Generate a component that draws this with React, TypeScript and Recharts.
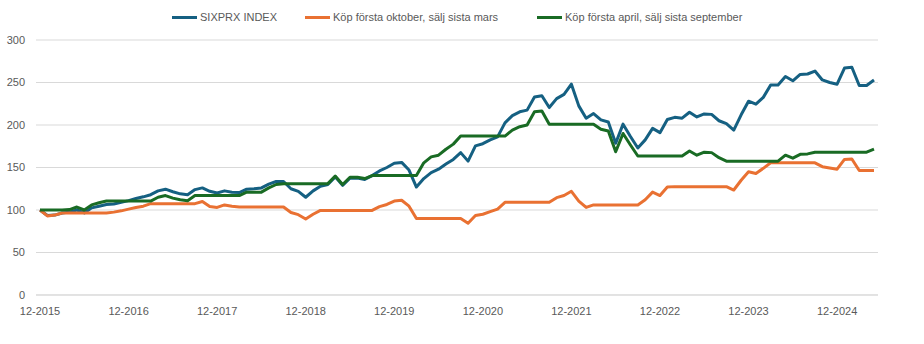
import { LineChart, Line, XAxis, YAxis, CartesianGrid } from 'recharts';

// monthly values, first point = 12-2015, one row per calendar year
const SIXPRX = [
  100,
  93.5, 94, 96.5, 97.5, 100, 96.5, 102.5, 104.5, 106.5, 107, 109, 111,
  113.5, 115.5, 118, 122.5, 124.5, 121.5, 119, 118, 124, 126, 122, 120,
  122.5, 121, 120.5, 124.5, 125, 126, 130.5, 133.5, 133.5, 125, 122, 115,
  122.5, 128, 130, 139, 129, 137.5, 137.5, 136, 140.5, 146, 150, 155,
  156, 147, 127, 137, 144, 148, 154, 159.5, 167.5, 157.5, 175.5, 178,
  182.5, 186, 202.5, 211, 215.5, 217.5, 233, 234.5, 220.5, 231, 236, 248,
  222.5, 208, 213.5, 206, 203.5, 178.5, 201, 186.5, 173, 182.5, 196, 191,
  206.5, 209, 208, 215, 209.5, 213, 212.5, 205, 201.5, 194, 212, 228,
  224.5, 232.5, 247, 247, 257, 252, 259.5, 260, 263.5, 253, 250, 248,
  267, 268, 246.5, 246.5, 253,
];

const OCT_MAR = [
  100,
  93, 94, 96.5, 96.5, 96.5, 96.5, 96.5, 96.5, 96.5, 97.5, 99, 101,
  103, 104.5, 107.5, 107.5, 107.5, 107.5, 107.5, 107.5, 107.5, 110, 104, 103,
  106, 104.5, 103.5, 103.5, 103.5, 103.5, 103.5, 103.5, 103.5, 97, 94.5, 89.5,
  95, 99.5, 99.5, 99.5, 99.5, 99.5, 99.5, 99.5, 99.5, 104, 106.5, 110.5,
  111.5, 104.5, 90, 90, 90, 90, 90, 90, 90, 84.5, 93.5, 95,
  98, 101, 109, 109, 109, 109, 109, 109, 109, 114.5, 117, 122,
  110.5, 103, 106, 106, 106, 106, 106, 106, 106, 112, 121, 117,
  127, 127.5, 127.5, 127.5, 127.5, 127.5, 127.5, 127.5, 127.5, 123.5, 135, 145,
  143, 149, 155.5, 155.5, 155.5, 155.5, 155.5, 155.5, 155.5, 151, 149.5, 148,
  159.5, 160, 146.5, 146.5, 146.5,
];

const APR_SEP = [
  100,
  100, 100, 100, 100.5, 103.5, 100, 106, 108.5, 110.5, 110.5, 110.5, 110.5,
  110.5, 110.5, 110.5, 115, 117, 114, 112, 111, 117, 117, 117, 117,
  117, 117, 117, 121, 121, 121, 126, 130, 131, 131, 131, 131,
  131, 131, 131, 140, 130, 138.5, 138.5, 137, 140.5, 140.5, 140.5, 140.5,
  140.5, 140.5, 140.5, 155.5, 162.5, 164.5, 171.5, 177.5, 187, 187, 187, 187,
  187, 187, 187, 194, 198, 200, 215.5, 216.5, 201, 201, 201, 201,
  201, 201, 201, 195, 193, 168.5, 190, 176.5, 163.5, 163.5, 163.5, 163.5,
  163.5, 163.5, 163.5, 169.5, 164.5, 168, 167.5, 161.5, 157.5, 157.5, 157.5, 157.5,
  157.5, 157.5, 157.5, 157.5, 164.5, 161, 165.5, 166, 168, 168, 168, 168,
  168, 168, 168, 168, 171.5,
];

const START_MONTH = 12;
const START_YEAR = 2015;
const Y_TICKS = [0, 50, 100, 150, 200, 250, 300];

const SERIES = [
  { key: 'sixprx', name: 'SIXPRX INDEX', color: '#156082', legendX: 172 },
  { key: 'octMar', name: 'Köp första oktober, sälj sista mars', color: '#E97132', legendX: 305 },
  { key: 'aprSep', name: 'Köp första april, sälj sista september', color: '#196B24', legendX: 537 },
];

const MONTHS = SIXPRX.map((_, i) => {
  const n = START_MONTH - 1 + i;
  const m = (n % 12) + 1;
  const y = START_YEAR + Math.floor(n / 12);
  return `${String(m).padStart(2, '0')}-${y}`;
});

const data = MONTHS.map((month, i) => ({
  month,
  sixprx: SIXPRX[i],
  octMar: OCT_MAR[i],
  aprSep: APR_SEP[i],
}));

const FONT = '"Liberation Sans", Arial, sans-serif';
const tickStyle = { fill: '#595959', fontSize: 11, fontFamily: FONT };

export default function App() {
  return (
    <div style={{ position: 'absolute', left: 0, top: 0, width: 924, height: 344, background: '#fff', fontFamily: FONT }}>
      {SERIES.map(s => (
        <div key={s.key} style={{ position: 'absolute', left: s.legendX, top: 9, height: 16, display: 'flex', alignItems: 'center', whiteSpace: 'nowrap' }}>
          <span style={{ display: 'inline-block', width: 25, height: 3, background: s.color, marginRight: 3 }} />
          <span style={{ fontSize: 11, color: '#595959' }}>{s.name}</span>
        </div>
      ))}
      <LineChart width={924} height={344} data={data} margin={{ top: 40, right: 46, bottom: 19, left: 6 }}>
        <CartesianGrid vertical={false} stroke="#d9d9d9" />
        <XAxis dataKey="month" interval={11} tickLine={false} axisLine={{ stroke: '#d9d9d9' }}
          padding={{ left: 4, right: 4 }} tickMargin={6} tick={tickStyle} />
        <YAxis width={30} domain={[0, 300]} ticks={Y_TICKS} axisLine={false} tickLine={false}
          tickMargin={5} tick={tickStyle} />
        {SERIES.map(s => (
          <Line key={s.key} type="linear" dataKey={s.key} name={s.name} stroke={s.color} strokeWidth={3}
            dot={false} isAnimationActive={false} strokeLinejoin="round" />
        ))}
      </LineChart>
    </div>
  );
}
